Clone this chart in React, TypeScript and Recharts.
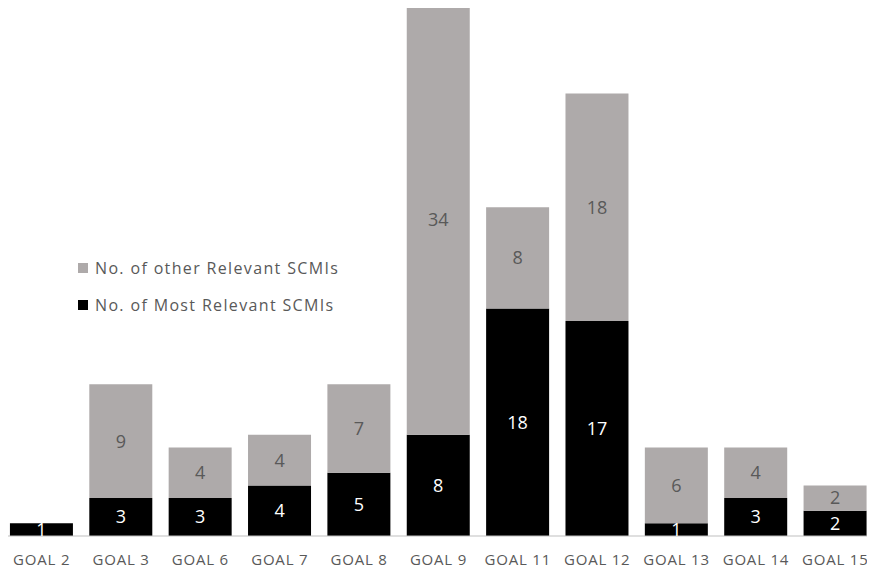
import React from "react";
import { BarChart, Bar, XAxis, YAxis, LabelList } from "recharts";

const goals = ["GOAL 2", "GOAL 3", "GOAL 6", "GOAL 7", "GOAL 8", "GOAL 9", "GOAL 11", "GOAL 12", "GOAL 13", "GOAL 14", "GOAL 15"];
const mostRelevant = [1, 3, 3, 4, 5, 8, 18, 17, 1, 3, 2];
const otherRelevant = [0, 9, 4, 4, 7, 34, 8, 18, 6, 4, 2];

const FONT = "Open Sans, sans-serif";
const GREY = "#aeaaaa";
const TEXT = "#595959";

const data = goals.map((goal, i) => ({
  goal,
  most: mostRelevant[i],
  other: otherRelevant[i] || null,
}));

const legendItems = [
  { color: GREY, label: "No. of other Relevant SCMIs" },
  { color: "#000000", label: "No. of Most Relevant SCMIs" },
];

// legend sits over the empty area left of the tall bars
function LegendBox() {
  return (
    <div
      style={{
        position: "absolute",
        left: 78,
        top: 249,
        fontFamily: FONT,
        fontSize: 16,
        letterSpacing: 1.35,
        color: TEXT,
      }}
    >
      {legendItems.map((it) => (
        <div key={it.label} style={{ display: "flex", alignItems: "center", height: 37 }}>
          <span style={{ width: 10, height: 10, background: it.color, marginRight: 7, display: "inline-block" }} />
          {it.label}
        </div>
      ))}
    </div>
  );
}

export default function App() {
  return (
    <div style={{ margin: -8, background: "#fff", width: 875, height: 573, position: "relative" }}>
      <BarChart
        width={875}
        height={573}
        data={data}
        margin={{ top: 5, right: 0, left: 2, bottom: 0 }}
        barCategoryGap="10%"
      >
        <XAxis
          dataKey="goal"
          height={37}
          tickLine={false}
          axisLine={{ stroke: "#bfbfbf" }}
          interval={0}
          tick={{ fill: TEXT, fontSize: 15, fontFamily: FONT, letterSpacing: 0.8 }}
          tickMargin={12}
        />
        <YAxis hide domain={[0, 42]} />
        <Bar dataKey="most" stackId="a" fill="#000000" isAnimationActive={false}>
          <LabelList dataKey="most" position="center" fill="#ffffff" fontSize={18} fontFamily={FONT} />
        </Bar>
        <Bar dataKey="other" stackId="a" fill={GREY} isAnimationActive={false}>
          <LabelList dataKey="other" position="center" fill={TEXT} fontSize={18} fontFamily={FONT} />
        </Bar>
      </BarChart>
      <LegendBox />
    </div>
  );
}
